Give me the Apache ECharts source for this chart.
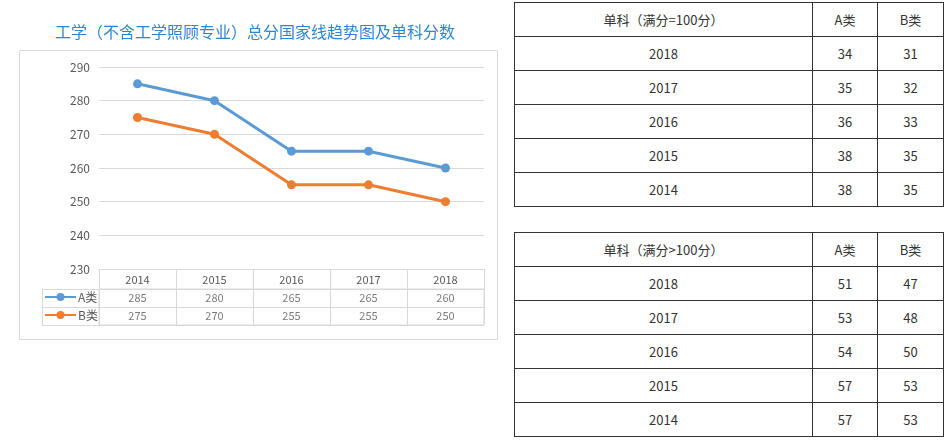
<!DOCTYPE html>
<html>
<head>
<meta charset="utf-8">
<script src="https://cdn.jsdelivr.net/npm/echarts@6/dist/echarts.min.js"></script>
<style>
  body { margin: 0; background: #fff; }
  #chart { position: absolute; left: 0; top: 0; width: 510px; height: 442px; }
  table.score {
    position: absolute; left: 514px; width: 430px;
    border-collapse: collapse; table-layout: fixed;
    font-family: "Noto Sans CJK SC", sans-serif; font-size: 13px; color: #333;
  }
  table.score td { border: 1px solid #333; height: 33px; padding: 0; text-align: center; }
</style>
</head>
<body>
<div id="chart"></div>
<table class="score" id="t1" style="top:2px"></table>
<table class="score" id="t2" style="top:232px"></table>
<script>
const years = ['2014', '2015', '2016', '2017', '2018']
const totalA = [285, 280, 265, 265, 260]
const totalB = [275, 270, 255, 255, 250]
const rowNames = ['A类', 'B类']

const singleYears = ['2018', '2017', '2016', '2015', '2014']
const le100A = [34, 35, 36, 38, 38]
const le100B = [31, 32, 33, 35, 35]
const gt100A = [51, 53, 54, 57, 57]
const gt100B = [47, 48, 50, 53, 53]

const font = '"Noto Sans CJK SC", sans-serif'
const gridColor = '#d9d9d9'
const textColor = '#595959'

function buildTable(id, title, a, b) {
  const rows = [`<colgroup><col style="width:298px"><col style="width:65px"><col style="width:66px"></colgroup>`,
    `<tr><td>${title}</td><td>A类</td><td>B类</td></tr>`]
  singleYears.forEach((y, i) => {
    rows.push(`<tr><td>${y}</td><td>${a[i]}</td><td>${b[i]}</td></tr>`)
  })
  document.getElementById(id).innerHTML = rows.join('')
}
buildTable('t1', '单科（满分=100分）', le100A, le100B)
buildTable('t2', '单科（满分&gt;100分）', gt100A, gt100B)

const chart = echarts.init(document.getElementById('chart'))

const tableLabel = (vals, row) => ({
  name: row + '表',
  type: 'scatter',
  xAxisIndex: 1,
  yAxisIndex: 1,
  silent: true,
  symbolSize: 1,
  itemStyle: { color: 'transparent' },
  label: {
    show: true,
    position: 'inside',
    color: textColor,
    fontSize: 11,
    fontFamily: font,
    formatter: (p) => p.value[2]
  },
  data: vals.map((v, i) => [i, rowNames.indexOf(row), v])
})

// one legend per table row so each lines up with its row
const rowLegend = (name, top) => ({
  data: [name],
  left: 44,
  top: top,
  padding: 0,
  itemWidth: 31,
  itemHeight: 10,
  textStyle: { color: textColor, fontSize: 12, fontFamily: font, padding: [0, 0, 0, -3] }
})

chart.setOption({
  animation: false,
  textStyle: { fontFamily: font },
  title: {
    text: '工学（不含工学照顾专业）总分国家线趋势图及单科分数',
    left: 'center',
    top: 19,
    textStyle: { color: '#2e86d1', fontSize: 16, fontWeight: 'normal', fontFamily: font }
  },
  graphic: [{
    type: 'rect',
    left: 19,
    top: 50,
    z: -10,
    silent: true,
    shape: { width: 478, height: 289 },
    style: { fill: '#fff', stroke: gridColor, lineWidth: 1 }
  }],
  legend: [rowLegend('A类', 291), rowLegend('B类', 309)],
  grid: [
    { left: 99, right: 26, top: 67, bottom: 173 },
    { left: 99, top: 289, width: 385, height: 36, show: true, borderColor: gridColor, borderWidth: 1 }
  ],
  xAxis: [
    {
      type: 'category',
      data: years,
      boundaryGap: true,
      axisLine: { lineStyle: { color: gridColor } },
      axisTick: { show: true, length: 56, alignWithLabel: false, lineStyle: { color: gridColor } },
      axisLabel: { color: textColor, fontSize: 11, margin: 5 }
    },
    {
      type: 'category',
      gridIndex: 1,
      data: years,
      show: false
    }
  ],
  yAxis: [
    {
      type: 'value',
      min: 230,
      max: 290,
      interval: 10,
      axisLine: { show: false },
      axisTick: { show: false },
      axisLabel: { color: textColor, fontSize: 12, margin: 9 },
      splitLine: { lineStyle: { color: gridColor } }
    },
    {
      type: 'category',
      gridIndex: 1,
      data: rowNames,
      inverse: true,
      offset: 57,
      axisLine: { show: true, lineStyle: { color: gridColor } },
      axisTick: { show: true, inside: true, length: 57, alignWithLabel: false, lineStyle: { color: gridColor } },
      axisLabel: { show: false },
      splitLine: { show: true, lineStyle: { color: gridColor } }
    }
  ],
  series: [
    {
      name: 'A类',
      type: 'line',
      data: totalA,
      symbol: 'circle',
      symbolSize: 9,
      lineStyle: { width: 3, color: '#5b9bd5' },
      itemStyle: { color: '#5b9bd5' }
    },
    {
      name: 'B类',
      type: 'line',
      data: totalB,
      symbol: 'circle',
      symbolSize: 9,
      lineStyle: { width: 3, color: '#ed7d31' },
      itemStyle: { color: '#ed7d31' }
    },
    tableLabel(totalA, 'A类'),
    tableLabel(totalB, 'B类')
  ]
})
</script>
</body>
</html>
